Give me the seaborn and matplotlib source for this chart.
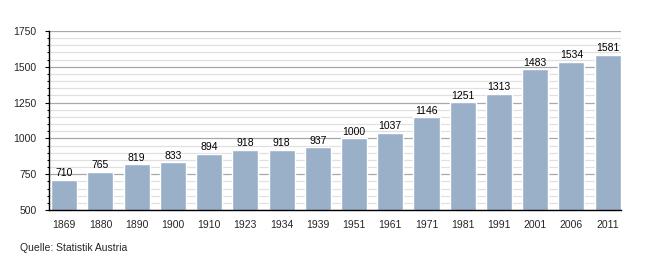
import matplotlib
matplotlib.use("Agg")
import matplotlib.pyplot as plt
import seaborn as sns
import pandas as pd
from matplotlib.ticker import MultipleLocator

years = ["1869", "1880", "1890", "1900", "1910", "1923", "1934", "1939",
         "1951", "1961", "1971", "1981", "1991", "2001", "2006", "2011"]
population = [710, 765, 819, 833, 894, 918, 918, 937,
              1000, 1037, 1146, 1251, 1313, 1483, 1534, 1581]
source = "Quelle: Statistik Austria"

sns.set_theme(style="white")
plt.rcParams['font.family'] = ['Liberation Sans', 'DejaVu Sans']

df = pd.DataFrame({"year": years, "pop": population})

fig = plt.figure(figsize=(6.5, 2.6), dpi=100)
ax = fig.add_axes([49/650, 50/260, (621-49)/650, (210-31)/260])

sns.barplot(data=df, x="year", y="pop", color="#9ab0c9", saturation=1,
            width=0.72, ax=ax, zorder=3)

ax.set_ylim(500, 1750)
ax.set_xlim(-0.42, 15.37)
ax.yaxis.set_major_locator(MultipleLocator(250))
ax.yaxis.set_minor_locator(MultipleLocator(50))
ax.grid(axis="y", which="major", color="#a8a8a8", linewidth=0.9, zorder=0)
ax.grid(axis="y", which="minor", color="#e0e0e0", linewidth=0.9, zorder=0)
ax.set_axisbelow(True)

for s in ["top", "right"]:
    ax.spines[s].set_visible(False)
for s in ["left", "bottom"]:
    ax.spines[s].set_color("black")
    ax.spines[s].set_linewidth(1.0)
    ax.spines[s].set_zorder(5)

ax.tick_params(axis="y", which="major", left=True, length=3, width=0.8,
               color="black", labelsize=7.5, pad=6)
ax.tick_params(axis="y", which="minor", left=True, length=1.6, width=0.8,
               color="black")
ax.tick_params(axis="x", bottom=False, labelsize=7.5, pad=1)
ax.set_xlabel("")
ax.set_ylabel("")

for i, v in enumerate(population):
    ax.text(i, v + 12, str(v), ha="center", va="bottom", fontsize=7.5,
            color="black", zorder=6)

fig.text(20/650, 1 - 248/260, source, fontsize=7.5, ha="left", va="center")

fig.savefig("out.png", dpi=100)
